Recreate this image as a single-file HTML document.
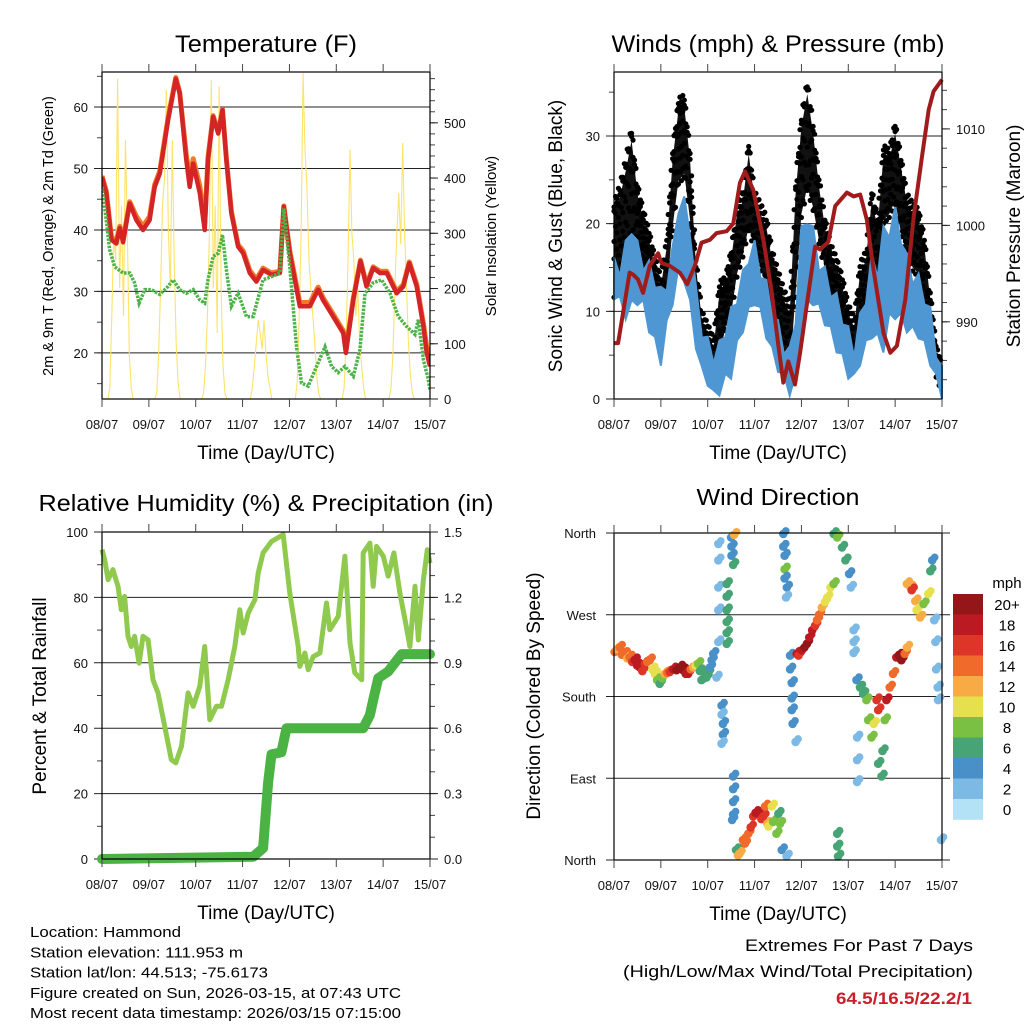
<!DOCTYPE html>
<html><head><meta charset="utf-8"><style>
html,body{margin:0;padding:0;background:#fff;}
svg{display:block;font-family:"Liberation Sans",Arial,sans-serif;}
</style></head><body>
<svg id="chart" width="1024" height="1024" viewBox="0 0 1024 1024" xmlns="http://www.w3.org/2000/svg"></svg>
<script>
// ---------- DATA ----------
const dayLabels = ["08/07","09/07","10/07","11/07","12/07","13/07","14/07","15/07"];
const tRedTime = [0,2.2,4.8,7.3,9.1,10.8,14.2,17.6,21,24.4,27,29.6,33.8,37.8,39.8,43.2,44.9,46.7,50.1,52.6,54.3,56.9,59.5,61.7,63.7,66.3,69.7,72.3,75.7,79.1,82.5,86.8,91.1,93.1,96.2,101.3,106.5,110.7,113.2,118.4,123.6,124.9,128.7,132.4,135.5,138.9,142.4,145.8,150.9,154.3,157.4,161.2,164.6,166.3,168];
const tRedValue = [48.6,46,38.4,37.8,40.3,38,44.3,41.6,40,41.6,47,49.2,57.8,64.6,62.2,51.4,47,50.8,46,40,51.4,58.4,55.7,59.5,51.4,42.7,37.3,36.2,33,31.6,33.5,32.7,33,43.8,36.2,27.6,27.6,30.3,28.6,25.9,23.2,20,28.6,34.9,30.8,33.8,33,33,29.7,30.8,34.6,30.8,24.3,20,17.8];
const tOrangeValue = [48.8,46.3,38.8,38.2,40.6,38.4,44.6,42.2,40.6,42.2,47.4,49.6,58.2,64.8,62.4,52.2,48.4,51.6,47.2,41,51.8,58.6,55.9,59.6,51.6,43,37.6,36.6,33.4,32,33.8,33,33.3,43.9,36.6,28.2,28.2,30.7,29,26.3,23.6,20.4,28.9,35.1,31.1,34,33.3,33.3,30,31.1,34.8,31.2,24.8,21,19];
const tDewTime = [0,2.2,3.9,6.5,10.8,14.2,16.7,19,21.9,25.3,29.6,33.8,36.4,39.8,43.2,46.7,50.1,52.6,54.3,56.9,59.5,61.7,63.7,66.3,69.7,74,77.4,82.5,86.8,91.1,93.1,96.2,99.6,102.2,105.6,109.9,114.2,117.6,121,124.4,128.7,132.1,134.7,138.9,143.2,147.5,151.8,156,160.3,162,164.6,167.1,168];
const tDewValue = [47,41.6,36.8,34,33,33,31.4,28.1,30.3,30.3,29.5,30.8,31.9,30.3,29.7,30.3,28.6,28.1,31.9,35.7,36.2,39.2,33.5,27.6,29.7,25.9,25.9,31.9,32.4,33,43.5,34,21,15.1,14.6,17.8,21,17.8,16.8,17.8,16.2,20.5,29.7,31.4,31.9,29.7,25.9,24.3,23,25.4,18.9,15.7,14];
const solarByDay = [
  [20,150,300,250,580,200,350,150,469,300,80,20,0],
  [10,80,200,350,400,560,300,200,469,250,100,30,0],
  [10,60,150,300,578,200,350,120,566,200,60,10,0],
  [0,20,60,100,143,120,90,143,80,40,20,0,0],
  [30,150,300,590,450,380,250,200,150,100,40,10,0],
  [20,100,250,452,300,250,150,200,100,60,20,0,0],
  [20,80,200,300,373,280,464,300,200,100,40,10,0]
];
const windTime = [0,3,6,9,12,15,18,21,24,27,30,33,36,39,42,45,48,51,54,57,60,63,66,69,72,75,78,81,84,87,90,93,96,99,102,105,108,111,114,117,120,123,126,129,132,135,138,141,144,147,150,153,156,159,162,165,168];
const windLo = [12,10.9,9.7,10.5,11.3,10.5,8.2,6.3,4.4,8.2,11.3,14.3,13.9,10.5,6.3,2.9,2.1,0.2,1,2.1,2.9,5.9,8.2,9.7,11.3,9.7,7.5,5.2,3.7,2.1,1,2.1,8.2,10.5,11.3,10.1,9,7.5,5.9,4.4,2.9,2.1,4.4,5.9,7.5,6.7,5.9,9,9.7,9,8.2,7.5,7.5,5.9,4.4,2.1,0.6];
const windHi = [15.4,15.2,17.3,20,17.3,15.8,15,13.9,12,13.5,16.6,22.3,22.3,19.6,12,8.2,6.3,5.2,5.9,8.2,9.7,12,13.9,16.6,17.3,15,12.8,10.5,8.2,6.3,5.2,9.7,18.9,21.1,18.9,15.8,14.3,12.8,11.3,9.7,7.5,5.9,9,12,15.8,15,18.9,19.6,21.1,18.9,15.8,14.3,13.5,12,9.7,5.9,2.9];
const gustHi = [21.1,23,26,29.5,23.4,20.4,18.1,15,12.8,17.3,27.2,32.9,33.3,27.2,15,9,7.5,5.9,12,12.8,15.8,21.1,22.6,28,22.6,21.1,19.6,15.8,13.5,11.3,9.7,23.4,31,34.8,30.3,24.2,19.6,16.6,15,12.8,9.7,8.2,14.3,15.8,22.6,19.6,27.6,27.2,30.3,26.4,22.3,21.1,20.4,17.3,11.3,5.2,2.9];
const gustLo = [12,14.3,15.8,18.9,17.3,15,13.5,9.7,8.2,12,19.6,24.9,25.7,20.4,9.7,5.2,3.7,2.1,4.4,8.2,9.7,14.3,16.6,19.6,17.3,15,12.8,9.7,7.5,5.2,2.9,12,21.1,24.2,21.9,18.1,15,12,10.5,8.2,5.2,3.7,8.2,11.3,14.3,13.5,20.4,21.1,22.6,18.9,16.6,15,14.3,11.3,6.7,2.9,1];
const presTime = [0,2.1,4.6,8,9.8,12.3,14.9,18.3,22.6,24.3,28.6,33.7,37.5,41.4,44.8,49.1,52.5,57.7,61.1,64.5,67.1,71.3,76.5,80.8,84.2,86.7,89.3,92.7,95.3,99.6,103,105.6,109.8,113.3,119.3,122.7,126.1,129.5,132.9,138.1,141.5,144.9,149.2,153.5,157.8,161.2,163.7,168];
const presValue = [987.8,987.8,990.9,995.1,994.9,994.4,993,995.8,997.1,996.1,995.8,995.1,993.9,995.8,998.2,998.5,999.2,999.4,1000.2,1004.4,1005.6,1003.7,998.5,993,987.5,983.7,985.9,983.5,986.8,993,997.8,997.5,998.3,1002,1003.4,1003,1003.2,1000.6,995.4,988.8,986.8,987.5,992.3,1000.9,1007.2,1012,1013.9,1015.1];
const rhTime = [0,1.4,3.1,5.6,8.2,9.9,11.6,13.3,15,16.7,19,21,23.6,26.1,28.7,32.1,35.5,37.8,40.7,44.1,46.7,50.1,52.6,55.2,58.6,61.2,64.6,68,70.6,72.3,74.9,78.3,80,82.5,86.8,92.8,96.2,100.5,101.3,103.9,105.6,108.2,111.6,115,116.7,121,124.4,127,129.5,133,133.8,137.2,138.9,140.6,144.1,146.6,149.5,152.6,155.2,157.7,160.3,162,164.6,166.6,168];
const rhValue = [94.6,91.5,85.4,88.5,83.4,76.2,80.3,68.1,65,68.1,59.9,68.1,67,54.8,50.8,40.6,30.4,29.4,34.5,50.8,46.7,52.8,65,42.6,46.7,46.7,54.8,65,76.2,69.1,75.2,79.3,87.5,93.6,97.1,99.2,81.3,65,58.9,63,57.9,61.9,63,78.3,70.1,74.2,92.6,66.1,56.9,54.8,93.6,96.6,83.4,95.6,92.6,86.5,93.6,81.3,73.2,65,83.4,67,85.4,94.6,90.5];
const rainTime = [0,77.4,82.5,85.1,86.8,91.9,94.5,133.8,137.2,138.9,141.5,146.6,150,153.5,168];
const rainValue = [0,0.01,0.05,0.35,0.48,0.49,0.6,0.6,0.66,0.73,0.83,0.86,0.9,0.94,0.94];
const dirTime = [0.3,1.5,2.9,4,5.5,6.8,8,9.3,10.6,11.9,13.2,14.5,15.7,17,18.3,19.6,20.9,22.1,23.4,24.7,26,27.3,28.6,30.3,32,33.7,35.4,36.7,38,39.3,40.6,41.9,43.1,44,44.8,46.1,47.4,48.2,49.1,50,50.8,52.5,
 53.4,53.4,53.4,53.4,53.4,55.1,55.1,55.8,55.8,55.1,57.7,57.7,57.7,57.7,57.7,57.7,60,60.2,60.2,61,61.5,61,61,61,61,60.5,
 62.5,63.5,64.3,66,67,68.8,70,71.3,72.5,73.8,75.5,76.5,77.4,78.5,79.1,80.8,81.5,83.2,84.2,85,85.9,88.4,
 86.7,86.7,87.4,87.4,87.4,88.5,88.1,90.2,90.2,91,91,91,91.5,93,
 93.6,94.5,96.2,97.5,98.8,100,101.5,103,104,105,106.5,108,109.2,110.9,112.5,
 112.5,114.3,116.8,118.5,120.4,121.3,114.3,114.3,114.8,122.7,122.7,122.7,
 124.2,126,127.6,129.3,124.5,124.5,124.5,130.2,131.9,133,134.5,135.3,135.3,137,138.7,137.5,
 139.5,141.2,142.9,144.6,146,147.2,148.9,150,
 150,151.8,152.5,154.3,155,156.8,158.5,161,162,163,164,164.6,165,165.8,166,167.5];
const dirValue = [229,232,234,226,227,222,223,218,220,214,212,208,216,218,220,210,205,198,194,200,205,206,207,210,209,212,209,205,205,210,212,214,216,208,198,200,201,206,212,220,227,201,
 348,330,300,275,240,170,160,150,138,128,304,290,275,262,250,238,355,345,335,325,358,92,78,64,50,44,
 11,5,7,22,18,29,36,48,52,51,45,48,59,40,37,59,42,29,51,40,11,4,
 359,345,335,320,310,300,289,225,210,195,178,165,150,130,
 227,225,231,234,238,245,253,258,264,270,278,284,289,300,304,
 359,355,344,330,315,300,29,15,4,253,240,228,
 198,190,183,176,135,110,86,154,135,150,176,165,106,92,154,120,
 176,190,205,223,225,220,227,234,
 304,300,297,285,275,267,282,293,318,330,264,240,210,190,176,22];
const dirSpeed = [13,12,13,14,13,12,14,16,17,18,17,16,15,13,13,9,9,7,6,8,11,13,15,18,19,20,19,18,17,14,11,9,7,6,5,6,6,5,3,3,3,2,
 2,2,2,1,2,3,1,3,3,2,6,6,6,6,6,5,4,4,4,5,12,3,3,3,3,4,
 5,12,12,13,14,14,16,16,17,18,15,16,13,11,10,9,8,8,6,8,3,2,
 3,3,4,7,4,3,1,4,4,4,4,4,4,2,
 17,16,18,20,20,18,18,16,14,13,12,10,10,9,7,
 6,7,6,5,4,2,6,6,6,2,2,2,
 3,5,6,7,2,2,2,8,7,10,16,16,6,6,8,6,
 17,14,14,18,20,20,14,11,
 11,12,15,12,10,12,8,10,6,4,2,2,2,2,2,1];
const speedLabels = ["20+","18","16","14","12","10","8","6","4","2","0"];
const speedColors = ["#951618","#bc1a22","#dd3528","#f06b2b","#f8ab45","#e6e04f","#7ac143","#47a474","#4a90c8","#7cb9e4","#b3e2f7"];

// ---------- DRAWING ----------
const NS = "http://www.w3.org/2000/svg";
const svg = document.getElementById("chart");
function mk(tag, name, parent, attrs) {
  const e = document.createElementNS(NS, tag);
  
  
  for (const k in attrs) e.setAttribute(k, attrs[k]);
  (parent || svg).appendChild(e);
  return e;
}
function txt(name, parent, x, y, s, attrs) {
  const e = mk("text", name, parent, attrs);
  e.textContent = s;
  e.setAttribute("x", x); e.setAttribute("y", y);
  return e;
}
function scale(d0, d1, r0, r1) { return v => r0 + (v - d0) / (d1 - d0) * (r1 - r0); }
function pathFrom(xs, ys, fx, fy) {
  let d = "";
  for (let i = 0; i < xs.length; i++) d += (i ? "L" : "M") + fx(xs[i]).toFixed(1) + "," + fy(ys[i]).toFixed(1);
  return d;
}
function timeAxis(g, P, fx) {
  for (let i = 0; i < dayLabels.length; i++) {
    const x = fx(i * 24);
    mk("line", "x-tick", g, {x1: x, x2: x, y1: P.y1, y2: P.y1 + 8, stroke: "#444", "stroke-width": 1});
    mk("line", "x-tick-top", g, {x1: x, x2: x, y1: P.y0, y2: P.y0 - 8, stroke: "#444", "stroke-width": 1});
    txt("x-tick-label", g, x, P.y1 + 30, dayLabels[i], {"font-size": 13, "text-anchor": "middle", fill: "#111"});
  }
  txt("x-axis-title", g, (P.x0 + P.x1) / 2, P.y1 + 60, "Time (Day/UTC)", {"font-size": 19, "text-anchor": "middle", fill: "#000"});
}
function frame(g, P) {
  mk("rect", "plot-frame", g, {x: P.x0, y: P.y0, width: P.x1 - P.x0, height: P.y1 - P.y0, fill: "none", stroke: "#000", "stroke-width": 1.2});
}
function leftAxis(g, P, fy, ticks, minor, labels, grid) {
  for (const m of minor) { const y = fy(m); if (y >= P.y0 - 0.5 && y <= P.y1 + 0.5) mk("line", "y-minor-tick", g, {x1: P.x0 - 5, x2: P.x0, y1: y, y2: y, stroke: "#444"}); }
  ticks.forEach((t, i) => {
    const y = fy(t);
    mk("line", grid ? "y-gridline" : "y-tick", g, {x1: P.x0 - 8, x2: grid ? P.x1 : P.x0, y1: y, y2: y, stroke: "#222", "stroke-width": 1});
    txt("y-tick-label", g, P.x0 - 14, y + 5, labels[i], {"font-size": 13, "text-anchor": "end", fill: "#111"});
  });
}
function rightAxis(g, P, fy, ticks, minor, labels) {
  for (const m of minor) { const y = fy(m); if (y >= P.y0 - 0.5 && y <= P.y1 + 0.5) mk("line", "y2-minor-tick", g, {x1: P.x1, x2: P.x1 + 5, y1: y, y2: y, stroke: "#444"}); }
  ticks.forEach((t, i) => {
    const y = fy(t);
    mk("line", "y2-tick", g, {x1: P.x1, x2: P.x1 + 8, y1: y, y2: y, stroke: "#222"});
    txt("y2-tick-label", g, P.x1 + 14, y + 5, labels[i], {"font-size": 13, "text-anchor": "start", fill: "#111"});
  });
}
function vtitle(g, name, x, y, s, size) {
  return txt(name, g, 0, 0, s, {"font-size": size, "text-anchor": "middle", fill: "#000", transform: `translate(${x},${y}) rotate(-90)`});
}
function range(a, b, s) { const r = []; for (let v = a; v <= b + 1e-9; v += s) r.push(+v.toFixed(4)); return r; }

// ===== Panel 1: Temperature =====
(function () {
  const P = {x0: 102, x1: 430, y0: 72, y1: 399};
  const g = mk("g", "temperature-panel", svg, {});
  const fx = scale(0, 168, P.x0, P.x1);
  const fy = scale(12.5, 65.7, P.y1, P.y0);
  const fs = scale(0, 592, P.y1, P.y0);
  txt("temperature-title", g, 266, 52, "Temperature (F)", {"font-size": 24, "text-anchor": "middle", fill: "#000", textLength: 182, lengthAdjust: "spacingAndGlyphs"});
  leftAxis(g, P, fy, [20,30,40,50,60], range(15, 65, 5), ["20","30","40","50","60"], true);
  rightAxis(g, P, fs, [0,100,200,300,400,500], range(0, 580, 20), ["0","100","200","300","400","500"]);
  const st = [], sv = [];
  st.push(0); sv.push(0);
  solarByDay.forEach((arr, d) => { st.push(24 * d + 3); sv.push(0); arr.forEach((v, i) => { st.push(24 * d + 4 + i); sv.push(v); }); });
  st.push(168); sv.push(0);
  const cp = mk("clipPath", "clip", g, {id: "clip1"});
  mk("rect", "clip-rect", cp, {x: P.x0, y: P.y0, width: P.x1 - P.x0, height: P.y1 - P.y0});
  const inner = mk("g", "temperature-series", g, {"clip-path": "url(#clip1)"});
  mk("path", "solar-insolation-line", inner, {d: pathFrom(st, sv, fx, fs), fill: "none", stroke: "#fde36a", "stroke-width": 1.1});
  mk("path", "temp-9m-line", inner, {d: pathFrom(tRedTime, tOrangeValue, fx, fy), fill: "none", stroke: "#f07a2a", "stroke-width": 5, "stroke-linejoin": "round"});
  mk("path", "temp-2m-line", inner, {d: pathFrom(tRedTime, tRedValue, fx, fy), fill: "none", stroke: "#d42426", "stroke-width": 4.5, "stroke-linejoin": "round"});
  mk("path", "dewpoint-line", inner, {d: pathFrom(tDewTime, tDewValue, fx, fy), fill: "none", stroke: "#4cb348", "stroke-width": 3.5, "stroke-dasharray": "2.5 1.2"});
  frame(g, P);
  timeAxis(g, P, fx);
  vtitle(g, "temperature-y-axis-title", 53, 236, "2m & 9m T (Red, Orange) & 2m Td (Green)", 14.5);
  vtitle(g, "solar-y-axis-title", 496, 236, "Solar Insolation (Yellow)", 15);
})();

// ===== Panel 2: Winds & Pressure =====
(function () {
  const P = {x0: 614, x1: 942, y0: 72, y1: 399};
  const g = mk("g", "winds-panel", svg, {});
  const fx = scale(0, 168, P.x0, P.x1);
  const fy = scale(0, 37.3, P.y1, P.y0);
  const fp = scale(982.0, 1015.9, P.y1, P.y0);
  txt("winds-title", g, 778, 52, "Winds (mph) & Pressure (mb)", {"font-size": 24, "text-anchor": "middle", fill: "#000", textLength: 333, lengthAdjust: "spacingAndGlyphs"});
  leftAxis(g, P, fy, [0,10,20,30], range(5, 35, 5), ["0","10","20","30"], true);
  rightAxis(g, P, fp, [990,1000,1010], range(984, 1014, 2), ["990","1000","1010"]);
  const cp = mk("clipPath", "clip", g, {id: "clip2"});
  mk("rect", "clip-rect", cp, {x: P.x0 - 3, y: P.y0, width: P.x1 - P.x0 + 6, height: P.y1 - P.y0});
  const inner = mk("g", "winds-series", g, {"clip-path": "url(#clip2)"});
  // gust band (lighter core) + dense dots
  let d = pathFrom(windTime, gustHi, fx, fy);
  for (let i = windTime.length - 1; i >= 0; i--) d += "L" + fx(windTime[i]).toFixed(1) + "," + fy(gustLo[i]).toFixed(1);
  mk("path", "gust-band", inner, {d: d + "Z", fill: "#111", stroke: "none"});
  const fracs = [0, 0.35, 0.7, 1.0, 1.08];
  const subs = [0, 0.25, 0.5, 0.75];
  for (let i = 0; i < windTime.length - 1; i++) {
    for (let s = 0; s < subs.length; s++) {
      const f = subs[s];
      const t = windTime[i] + f * (windTime[i + 1] - windTime[i]);
      const hi = gustHi[i] + f * (gustHi[i + 1] - gustHi[i]);
      const lo = gustLo[i] + f * (gustLo[i + 1] - gustLo[i]);
      for (let k = 0; k < fracs.length; k++) {
        const v = lo + fracs[k] * (hi - lo) + ((s + k) % 2 ? 0.8 : -0.4);
        mk("circle", "gust-dot", inner, {cx: fx(t).toFixed(1), cy: fy(v).toFixed(1), r: 2.6, fill: "#000"});
      }
    }
  }
  let d2 = "";
  for (let i = 0; i < windTime.length; i++) d2 += (i ? "L" : "M") + fx(windTime[i]).toFixed(1) + "," + fy(windHi[i] + (i % 2 ? -1.2 : 0.8)).toFixed(1);
  for (let i = windTime.length - 1; i >= 0; i--) d2 += "L" + fx(windTime[i]).toFixed(1) + "," + fy(windLo[i] + (i % 2 ? 0.8 : -0.6)).toFixed(1);
  mk("path", "sonic-wind-band", inner, {d: d2 + "Z", fill: "#4f97d3", stroke: "#4f97d3", "stroke-width": 2});
  mk("path", "pressure-line", inner, {d: pathFrom(presTime, presValue, fx, fp), fill: "none", stroke: "#a01c1c", "stroke-width": 4, "stroke-linejoin": "round"});
  frame(g, P);
  timeAxis(g, P, fx);
  vtitle(g, "wind-y-axis-title", 562, 236, "Sonic Wind & Gust (Blue, Black)", 19);
  vtitle(g, "pressure-y-axis-title", 1020, 236, "Station Pressure (Maroon)", 19);
})();

// ===== Panel 3: RH & Precip =====
(function () {
  const P = {x0: 102, x1: 430, y0: 532, y1: 859};
  const g = mk("g", "humidity-panel", svg, {});
  const fx = scale(0, 168, P.x0, P.x1);
  const fy = scale(0, 100, P.y1, P.y0);
  const fr = scale(0, 1.5, P.y1, P.y0);
  txt("humidity-title", g, 266, 511, "Relative Humidity (%) & Precipitation (in)", {"font-size": 23, "text-anchor": "middle", fill: "#000", textLength: 455, lengthAdjust: "spacingAndGlyphs"});
  leftAxis(g, P, fy, [0,20,40,60,80,100], range(10, 90, 20), ["0","20","40","60","80","100"], true);
  rightAxis(g, P, fr, [0,0.3,0.6,0.9,1.2,1.5], range(0.1, 1.4, 0.1), ["0.0","0.3","0.6","0.9","1.2","1.5"]);
  mk("path", "relative-humidity-line", g, {d: pathFrom(rhTime, rhValue, fx, fy), fill: "none", stroke: "#8fca4f", "stroke-width": 5, "stroke-linejoin": "round"});
  mk("path", "precipitation-line", g, {d: pathFrom(rainTime, rainValue, fx, fr), fill: "none", stroke: "#4ab344", "stroke-width": 10, "stroke-linejoin": "round", "stroke-linecap": "round"});
  frame(g, P);
  timeAxis(g, P, fx);
  vtitle(g, "humidity-y-axis-title", 46, 696, "Percent & Total Rainfall", 19);
})();

// ===== Panel 4: Wind Direction =====
(function () {
  const P = {x0: 614, x1: 942, y0: 533, y1: 860};
  const g = mk("g", "wind-direction-panel", svg, {});
  const fx = scale(0, 168, P.x0, P.x1);
  const fy = scale(0, 360, P.y1, P.y0);
  txt("wind-direction-title", g, 778, 505, "Wind Direction", {"font-size": 23, "text-anchor": "middle", fill: "#000", textLength: 163, lengthAdjust: "spacingAndGlyphs"});
  const dirTicks = [0, 90, 180, 270, 360];
  const dirLabels = ["North", "East", "South", "West", "North"];
  dirTicks.forEach((t, i) => {
    const y = fy(t);
    mk("line", "y-gridline", g, {x1: P.x0 - 8, x2: P.x1 + 8, y1: y, y2: y, stroke: "#222"});
    txt("y-tick-label", g, P.x0 - 18, y + 5, dirLabels[i], {"font-size": 13, "text-anchor": "end", fill: "#111"});
  });
  function colorFor(s) { let idx = Math.floor(Math.min(s, 20) / 2 + 0.5); if (idx > 10) idx = 10; return speedColors[10 - idx]; }
  for (let i = 0; i < dirTime.length; i++) {
    mk("circle", "direction-point", g, {cx: fx(dirTime[i]).toFixed(1), cy: fy(dirValue[i]).toFixed(1), r: 4.3, fill: colorFor(dirSpeed[i])});
    mk("circle", "direction-point", g, {cx: (fx(dirTime[i]) + 2.5).toFixed(1), cy: (fy(dirValue[i]) - 3).toFixed(1), r: 3.8, fill: colorFor(dirSpeed[i])});
  }
  frame(g, P);
  timeAxis(g, P, fx);
  vtitle(g, "direction-y-axis-title", 540, 696, "Direction (Colored By Speed)", 19);
  const cb = mk("g", "speed-colorbar", svg, {});
  txt("colorbar-title", cb, 1007, 588, "mph", {"font-size": 15, "text-anchor": "middle", fill: "#000"});
  speedLabels.forEach((lab, i) => {
    const y = 594 + i * 20.5;
    mk("rect", "colorbar-cell", cb, {x: 953, y: y, width: 30, height: 20.8, fill: speedColors[i]});
    txt("colorbar-label", cb, 1007, y + 16, lab, {"font-size": 15, "text-anchor": "middle", fill: "#000"});
  });
})();

// ===== Footer text =====
const info = mk("g", "station-info", svg, {});
const infoLines = ["Location: Hammond", "Station elevation: 111.953 m", "Station lat/lon: 44.513; -75.6173", "Figure created on Sun, 2026-03-15, at 07:43 UTC", "Most recent data timestamp: 2026/03/15 07:15:00"];
const infoWidths = [151, 213, 238, 371, 371];
infoLines.forEach((s, i) => {
  txt("station-info-line", info, 30, 937 + i * 20.3, s, {"font-size": 15, fill: "#000", textLength: infoWidths[i], lengthAdjust: "spacingAndGlyphs"});
});
const ext = mk("g", "extremes-summary", svg, {});
txt("extremes-title", ext, 973, 951, "Extremes For Past 7 Days", {"font-size": 17, "text-anchor": "end", fill: "#000", textLength: 228, lengthAdjust: "spacingAndGlyphs"});
txt("extremes-subtitle", ext, 973, 977, "(High/Low/Max Wind/Total Precipitation)", {"font-size": 17, "text-anchor": "end", fill: "#000", textLength: 350, lengthAdjust: "spacingAndGlyphs"});
txt("extremes-values", ext, 972, 1004, "64.5/16.5/22.2/1", {"font-size": 17, "font-weight": "bold", "text-anchor": "end", fill: "#c8202a", textLength: 136, lengthAdjust: "spacingAndGlyphs"});
</script>
</body></html>
